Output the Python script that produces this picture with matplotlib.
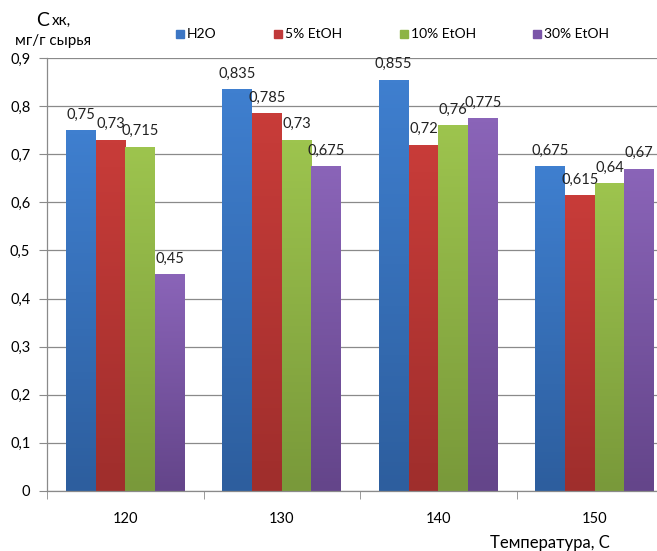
import numpy as np
import matplotlib
matplotlib.use("Agg")
import matplotlib.pyplot as plt
from matplotlib.colors import LinearSegmentedColormap

# ------------------ данные ------------------
temperatures = ["120", "130", "140", "150"]
series_names = ["H2O", "5% EtOH", "10% EtOH", "30% EtOH"]
h2o = [0.75, 0.835, 0.855, 0.675]
etoh5 = [0.73, 0.785, 0.72, 0.615]
etoh10 = [0.715, 0.73, 0.76, 0.64]
etoh30 = [0.45, 0.675, 0.775, 0.67]
y_ticks = [0, 0.1, 0.2, 0.3, 0.4, 0.5, 0.6, 0.7, 0.8, 0.9]

# цвета (верх, низ) для градиента как в Excel
colors = [("#3f7fcf", "#2d5e9e"),
          ("#c83c39", "#9f2e2c"),
          ("#9dc44e", "#79993a"),
          ("#8a64b8", "#64458a")]
legend_colors = ["#3c76c4", "#c0393a", "#8cb444", "#7a55a8"]

plt.rcParams["font.family"] = ["Lato", "DejaVu Sans"]

fig = plt.figure(figsize=(6.57, 5.51), dpi=100)
ax = fig.add_axes([47 / 657, 1 - 491 / 551, 626 / 657, 433 / 551])

data = [h2o, etoh5, etoh10, etoh30]
x = np.arange(len(temperatures))
w = 0.19
grid_color = "#8a8a8a"

for i, vals in enumerate(data):
    pos = x + (i - 1.5) * w
    bars = ax.bar(pos, vals, width=w, color=legend_colors[i], zorder=2,
                  linewidth=0)
    cmap = LinearSegmentedColormap.from_list("g%d" % i, [colors[i][1], colors[i][0]])
    for b, v in zip(bars, vals):
        x0, y0 = b.get_x(), b.get_y()
        grad = np.linspace(0, 1, 100).reshape(-1, 1)
        im = ax.imshow(grad, cmap=cmap, origin="lower", aspect="auto",
                       extent=[x0, x0 + b.get_width(), y0, y0 + b.get_height()],
                       zorder=2.5)
        im.set_clip_path(b)
        lbl = ("%g" % v).replace(".", ",")
        ax.text(b.get_x() + b.get_width() / 2, v + 0.018, lbl,
                ha="center", va="bottom", fontsize=10.5, color="#222222", zorder=4)

ax.set_xlim(-0.5, 3.5)
ax.set_ylim(0, 0.9)
ax.set_yticks(y_ticks)
ax.set_yticklabels([("%g" % t).replace(".", ",") for t in y_ticks], fontsize=10.5)
ax.yaxis.grid(True, color=grid_color, linewidth=0.9, zorder=0)
ax.set_axisbelow(True)

# категориальная ось: метки по центру, засечки на границах
ax.set_xticks(x)
ax.set_xticklabels(temperatures, fontsize=10.5)
ax.tick_params(axis="x", length=0, pad=15)
ax.set_xticks(np.arange(-0.5, 4.0, 1.0), minor=True)
ax.tick_params(axis="x", which="minor", length=6, color=grid_color, direction="out")
ax.tick_params(axis="y", length=6, color=grid_color, direction="out", pad=6)

for s in ["top", "right"]:
    ax.spines[s].set_visible(False)
for s in ["left", "bottom"]:
    ax.spines[s].set_color(grid_color)
    ax.spines[s].set_linewidth(0.9)

# подписи осей
fig.text(36 / 657, 1 - 20 / 551, "С", fontsize=14, ha="left", va="center")
fig.text(52 / 657, 1 - 21 / 551, "хк,", fontsize=11, ha="left", va="center")
fig.text(15 / 657, 1 - 41 / 551, "мг/г сырья", fontsize=11, ha="left", va="center")
fig.text(490 / 657, 1 - 543 / 551, "Температура, С", fontsize=12, ha="left", va="center")

# легенда
leg_x = [176, 274, 400, 533]
for lx, name, c in zip(leg_x, series_names, legend_colors):
    fig.patches.append(plt.Rectangle((lx / 657, 1 - 38 / 551), 8 / 657, 8 / 551,
                                     transform=fig.transFigure, color=c))
    fig.text((lx + 11) / 657, 1 - 34 / 551, name, fontsize=10, ha="left", va="center")

fig.savefig("out.png", dpi=100)
